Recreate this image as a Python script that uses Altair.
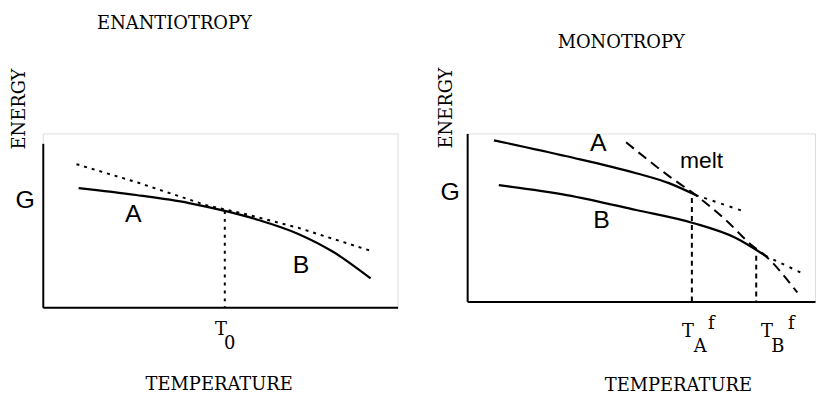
import altair as alt
import pandas as pd

# ---------------- data (panel units: temperature 0-10, energy 0-10) ----------------
# Enantiotropy panel
enan_curve_T = [1.01, 2.63, 4.12, 5.13, 6.08, 7.20, 8.18, 9.24]
enan_curve_G = [7.27, 6.85, 6.36, 5.88, 5.33, 4.48, 3.39, 1.76]
enan_dot_T = [0.95, 2.72, 4.59, 5.80, 7.20, 9.24]
enan_dot_G = [8.73, 7.58, 6.24, 5.64, 4.85, 3.45]
enan_T0 = [5.13]
enan_T0_G = [5.88]
enan_label_text = ["G", "A", "B"]
enan_label_T = [-0.50, 2.55, 7.28]
enan_label_G = [6.06, 5.21, 2.12]
enan_tick_text = ["T", "0"]
enan_tick_T = [5.02, 5.27]
enan_tick_G = [-1.70, -2.55]

# Monotropy panel
mono_A_T = [0.77, 2.86, 4.86, 5.80, 6.57]
mono_A_G = [9.59, 8.64, 7.63, 7.04, 6.33]
mono_A_ext_T = [6.57, 8.00]
mono_A_ext_G = [6.33, 5.33]
mono_B_T = [0.91, 2.86, 4.86, 6.49, 7.71, 8.57]
mono_B_G = [6.92, 6.33, 5.44, 4.67, 3.79, 2.72]
mono_B_ext_T = [8.57, 9.71]
mono_B_ext_G = [2.72, 1.60]
melt_T = [4.57, 5.80, 6.57, 7.43, 8.20, 8.57, 9.49]
melt_G = [9.47, 7.46, 6.33, 4.85, 3.31, 2.72, 0.53]
mono_Tf = [6.46, 8.31]
mono_Tf_G = [6.15, 2.72]
mono_label_text = ["G", "A", "B", "melt"]
mono_label_T = [-0.49, 3.77, 3.86, 6.74]
mono_label_G = [6.04, 8.93, 4.38, 7.93]
mono_label_size = [25, 25, 25, 23]
mono_tick_text = ["T", "A", "f", "T", "B", "f"]
mono_tick_T = [6.35, 6.70, 7.02, 8.62, 8.93, 9.32]
mono_tick_G = [-2.13, -3.02, -1.66, -2.13, -3.02, -1.66]

SERIF = "DejaVu Serif"
SANS = "Liberation Sans"
SERIF_SIZE = 18


def df(t, g):
    return pd.DataFrame({"T": t, "G": g})


def axes(x_title_x, x_title_y, y_title_x, y_title_y, y_range=None):
    ax = alt.Axis(title="TEMPERATURE", ticks=False, labels=False, grid=False,
                  domainColor="black", domainWidth=2,
                  titleFont=SERIF, titleFontSize=SERIF_SIZE, titleFontWeight="normal",
                  titleColor="black", titleX=x_title_x, titleY=x_title_y,
                  titleAlign="center", titleBaseline="alphabetic")
    ay = alt.Axis(title="ENERGY", ticks=False, labels=False, grid=False,
                  domainColor="black", domainWidth=2,
                  titleFont=SERIF, titleFontSize=SERIF_SIZE, titleFontWeight="normal",
                  titleColor="black", titleX=y_title_x, titleY=y_title_y,
                  titleAngle=270, titleAlign="center", titleBaseline="alphabetic")
    xs = alt.Scale(domain=[0, 10], nice=False)
    if y_range is not None:
        ys = alt.Scale(domain=[0, 10], nice=False, range=y_range)
    else:
        ys = alt.Scale(domain=[0, 10], nice=False)
    X = alt.X("T:Q", scale=xs, axis=ax)
    Y = alt.Y("G:Q", scale=ys, axis=ay)
    return X, Y


def line(data, X, Y, dash=None, width=2.2, interp="monotone"):
    kw = dict(color="black", strokeWidth=width, interpolate=interp, clip=False)
    if dash:
        kw["strokeDash"] = dash
    return alt.Chart(data).mark_line(**kw).encode(x=X, y=Y)


def vrules(t, g, X, Y, dash):
    d = pd.DataFrame({"T": t, "G": g, "G0": [0] * len(t)})
    return alt.Chart(d).mark_rule(color="black", strokeWidth=2, strokeDash=dash).encode(
        x=X, y=Y, y2="G0:Q")


def texts(txt, t, g, X, Y, font, size):
    d = pd.DataFrame({"T": t, "G": g, "label": txt})
    return alt.Chart(d).mark_text(font=font, fontSize=size, color="black",
                                  align="center", baseline="alphabetic").encode(
        x=X, y=Y, text="label:N")


# ---------------- left panel ----------------
LX, LY = axes(177, 83, -18, -25, y_range=[175, 10])
left = alt.layer(
    line(df(enan_curve_T, enan_curve_G), LX, LY),
    line(df(enan_dot_T, enan_dot_G), LX, LY, dash=[3, 5], width=2, interp="linear"),
    vrules(enan_T0, enan_T0_G, LX, LY, [3, 5]),
    texts(enan_label_text, enan_label_T, enan_label_G, LX, LY, SANS, 25),
    texts(enan_tick_text, enan_tick_T, enan_tick_G, LX, LY, SERIF, SERIF_SIZE),
).properties(
    width=357, height=175,
    title=alt.TitleParams("ENANTIOTROPY", font=SERIF, fontSize=SERIF_SIZE, fontWeight="normal",
                          color="black", anchor="middle", frame="group", dx=-46,
                          offset=21, baseline="alphabetic"),
)

# ---------------- right panel ----------------
RX, RY = axes(212, 90, -16, -26)
mono_lab = pd.DataFrame({"T": mono_label_T, "G": mono_label_G,
                         "label": mono_label_text, "size": mono_label_size})
right = alt.layer(
    line(df(mono_A_T, mono_A_G), RX, RY),
    line(df(mono_B_T, mono_B_G), RX, RY),
    line(df(mono_A_ext_T, mono_A_ext_G), RX, RY, dash=[3, 6], width=2, interp="linear"),
    line(df(mono_B_ext_T, mono_B_ext_G), RX, RY, dash=[3, 6], width=2, interp="linear"),
    line(df(melt_T, melt_G), RX, RY, dash=[10, 6], width=2),
    vrules(mono_Tf, mono_Tf_G, RX, RY, [5, 4]),
    alt.Chart(mono_lab).mark_text(font=SANS, color="black", align="center",
                                  baseline="alphabetic").encode(
        x=RX, y=RY, text="label:N", size=alt.Size("size:Q", scale=None, legend=None)),
    texts(mono_tick_text, mono_tick_T, mono_tick_G, RX, RY, SERIF, SERIF_SIZE),
).properties(
    width=350, height=169,
    title=alt.TitleParams("MONOTROPY", font=SERIF, fontSize=SERIF_SIZE, fontWeight="normal",
                          color="black", anchor="middle", frame="group", dx=-20,
                          offset=1, baseline="alphabetic"),
)

chart = alt.hconcat(left, right, spacing=70, bounds="flush").properties(
    padding={"left": 2, "top": 5, "right": 0, "bottom": 0}
).configure_view(stroke=None).configure(background="white")

chart.save("out.html", embed_options={"renderer": "svg", "actions": False})
